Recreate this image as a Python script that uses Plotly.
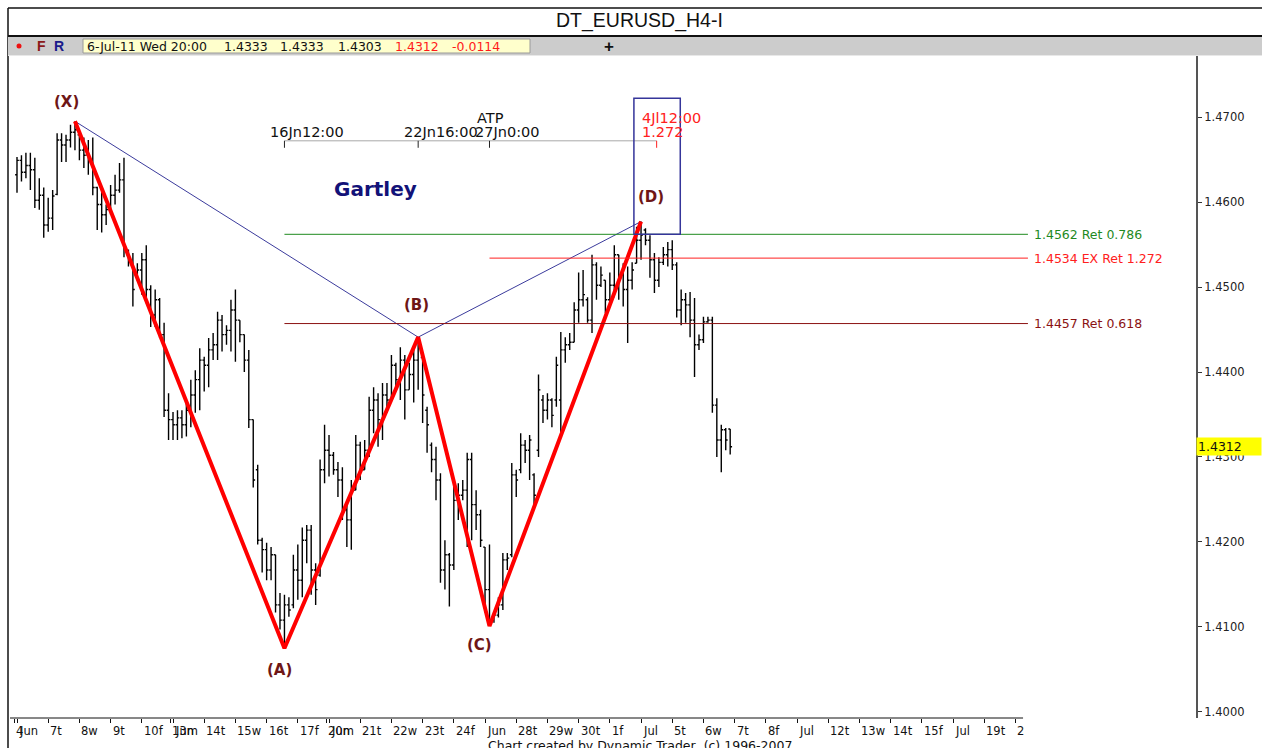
import plotly.graph_objects as go

# ---------------- data (EURUSD H4) ----------------
opens = [1.4632, 1.4649, 1.4635, 1.4643, 1.4638, 1.4602, 1.4608, 1.4573, 1.4581, 1.4609,
         1.4673, 1.4667, 1.4673, 1.4682, 1.4679, 1.4661, 1.4655, 1.4649, 1.4617, 1.4597,
         1.4585, 1.4591, 1.4608, 1.4614, 1.4626, 1.4538, 1.4529, 1.4514, 1.4520, 1.4532,
         1.4497, 1.4467, 1.4485, 1.4444, 1.4355, 1.4344, 1.4338, 1.4346, 1.4338, 1.4355,
         1.4373, 1.4391, 1.4414, 1.4408, 1.4426, 1.4432, 1.4461, 1.4444, 1.4449, 1.4473,
         1.4461, 1.4444, 1.4414, 1.4344, 1.4285, 1.4202, 1.4191, 1.4167, 1.4185, 1.4126,
         1.4108, 1.4126, 1.4126, 1.4167, 1.4155, 1.4202, 1.4214, 1.4167, 1.4161, 1.4285,
         1.4308, 1.4302, 1.4285, 1.4273, 1.4238, 1.4226, 1.4261, 1.4314, 1.4285, 1.4308,
         1.4355, 1.4367, 1.4344, 1.4373, 1.4367, 1.4408, 1.4391, 1.4414, 1.4379, 1.4397,
         1.4414, 1.4417, 1.4355, 1.4314, 1.4297, 1.4273, 1.4167, 1.4185, 1.4173, 1.4249,
         1.4255, 1.4261, 1.4297, 1.4244, 1.4232, 1.4194, 1.4144, 1.4108, 1.4114, 1.4126,
         1.4179, 1.4185, 1.4279, 1.4285, 1.4314, 1.4308, 1.4279, 1.4308, 1.4367, 1.4355,
         1.4367, 1.4367, 1.4367, 1.4426, 1.4432, 1.4435, 1.4473, 1.4485, 1.4485, 1.4461,
         1.4526, 1.4502, 1.4508, 1.4485, 1.4502, 1.4538, 1.4514, 1.4497, 1.4508, 1.4528,
         1.4555, 1.4567, 1.4555, 1.4532, 1.4508, 1.4529, 1.4538, 1.4544, 1.4526, 1.4473,
         1.4485, 1.4479, 1.4461, 1.4432, 1.4438, 1.4459, 1.4461, 1.4361, 1.4320, 1.4332,
         1.4333]
highs = [1.4653, 1.4655, 1.4658, 1.4658, 1.4652, 1.4628, 1.4617, 1.4605, 1.4614, 1.4681,
         1.4681, 1.4679, 1.4691, 1.4695, 1.4681, 1.4676, 1.4673, 1.4676, 1.4618, 1.4612,
         1.4597, 1.4620, 1.4632, 1.4646, 1.4652, 1.4544, 1.4540, 1.4528, 1.4540, 1.4549,
         1.4502, 1.4497, 1.4487, 1.4458, 1.4375, 1.4353, 1.4355, 1.4355, 1.4367, 1.4391,
         1.4402, 1.4428, 1.4418, 1.4440, 1.4446, 1.4471, 1.4467, 1.4455, 1.4485, 1.4497,
         1.4461, 1.4444, 1.4426, 1.4344, 1.4291, 1.4205, 1.4199, 1.4194, 1.4185, 1.4140,
         1.4138, 1.4135, 1.4185, 1.4197, 1.4217, 1.4220, 1.4220, 1.4175, 1.4297, 1.4338,
         1.4326, 1.4306, 1.4294, 1.4288, 1.4246, 1.4273, 1.4326, 1.4318, 1.4320, 1.4371,
         1.4382, 1.4375, 1.4387, 1.4387, 1.4420, 1.4411, 1.4429, 1.4420, 1.4411, 1.4426,
         1.4441, 1.4420, 1.4359, 1.4317, 1.4312, 1.4281, 1.4202, 1.4187, 1.4273, 1.4269,
         1.4273, 1.4305, 1.4305, 1.4261, 1.4238, 1.4194, 1.4197, 1.4117, 1.4135, 1.4187,
         1.4187, 1.4293, 1.4285, 1.4328, 1.4320, 1.4326, 1.4281, 1.4397, 1.4373, 1.4375,
         1.4369, 1.4418, 1.4447, 1.4441, 1.4446, 1.4482, 1.4517, 1.4520, 1.4488, 1.4538,
         1.4529, 1.4524, 1.4508, 1.4517, 1.4549, 1.4538, 1.4528, 1.4524, 1.4529, 1.4571,
         1.4577, 1.4569, 1.4561, 1.4540, 1.4535, 1.4547, 1.4553, 1.4555, 1.4529, 1.4497,
         1.4493, 1.4494, 1.4487, 1.4444, 1.4465, 1.4465, 1.4465, 1.4369, 1.4338, 1.4334,
         1.4333]
lows = [1.4611, 1.4624, 1.4628, 1.4614, 1.4593, 1.4591, 1.4558, 1.4565, 1.4567, 1.4608,
        1.4647, 1.4647, 1.4664, 1.4661, 1.4649, 1.4640, 1.4632, 1.4608, 1.4567, 1.4564,
        1.4573, 1.4585, 1.4597, 1.4611, 1.4535, 1.4524, 1.4477, 1.4508, 1.4491, 1.4481,
        1.4453, 1.4453, 1.4440, 1.4347, 1.4320, 1.4320, 1.4320, 1.4322, 1.4324, 1.4335,
        1.4352, 1.4355, 1.4377, 1.4382, 1.4414, 1.4414, 1.4424, 1.4432, 1.4424, 1.4412,
        1.4435, 1.4400, 1.4334, 1.4264, 1.4197, 1.4164, 1.4155, 1.4155, 1.4117, 1.4097,
        1.4075, 1.4112, 1.4122, 1.4132, 1.4135, 1.4175, 1.4138, 1.4126, 1.4159, 1.4269,
        1.4277, 1.4279, 1.4253, 1.4226, 1.4194, 1.4191, 1.4261, 1.4273, 1.4285, 1.4300,
        1.4328, 1.4312, 1.4320, 1.4352, 1.4367, 1.4379, 1.4367, 1.4344, 1.4379, 1.4364,
        1.4379, 1.4340, 1.4305, 1.4282, 1.4249, 1.4152, 1.4144, 1.4124, 1.4167, 1.4226,
        1.4249, 1.4194, 1.4202, 1.4214, 1.4194, 1.4117, 1.4101, 1.4105, 1.4111, 1.4120,
        1.4167, 1.4182, 1.4253, 1.4281, 1.4293, 1.4273, 1.4238, 1.4300, 1.4340, 1.4344,
        1.4335, 1.4359, 1.4326, 1.4411, 1.4426, 1.4435, 1.4458, 1.4477, 1.4458, 1.4446,
        1.4485, 1.4500, 1.4469, 1.4477, 1.4488, 1.4485, 1.4477, 1.4434, 1.4497, 1.4528,
        1.4532, 1.4549, 1.4511, 1.4493, 1.4500, 1.4526, 1.4524, 1.4520, 1.4464, 1.4455,
        1.4458, 1.4441, 1.4394, 1.4426, 1.4434, 1.4458, 1.4352, 1.4300, 1.4282, 1.4308,
        1.4303]
closes = [1.4649, 1.4635, 1.4643, 1.4638, 1.4602, 1.4608, 1.4573, 1.4581, 1.4607, 1.4673,
          1.4667, 1.4673, 1.4682, 1.4685, 1.4661, 1.4655, 1.4649, 1.4617, 1.4597, 1.4585,
          1.4591, 1.4608, 1.4614, 1.4626, 1.4544, 1.4529, 1.4497, 1.4520, 1.4532, 1.4497,
          1.4467, 1.4485, 1.4444, 1.4355, 1.4344, 1.4338, 1.4346, 1.4338, 1.4355, 1.4373,
          1.4391, 1.4414, 1.4408, 1.4426, 1.4432, 1.4461, 1.4444, 1.4449, 1.4473, 1.4461,
          1.4444, 1.4414, 1.4344, 1.4273, 1.4202, 1.4191, 1.4167, 1.4185, 1.4126, 1.4108,
          1.4126, 1.4120, 1.4167, 1.4155, 1.4202, 1.4214, 1.4167, 1.4144, 1.4285, 1.4308,
          1.4302, 1.4285, 1.4273, 1.4238, 1.4226, 1.4261, 1.4314, 1.4285, 1.4308, 1.4355,
          1.4367, 1.4344, 1.4373, 1.4367, 1.4408, 1.4391, 1.4414, 1.4379, 1.4397, 1.4414,
          1.4432, 1.4373, 1.4338, 1.4297, 1.4273, 1.4167, 1.4185, 1.4173, 1.4249, 1.4255,
          1.4261, 1.4297, 1.4244, 1.4232, 1.4202, 1.4144, 1.4108, 1.4114, 1.4126, 1.4179,
          1.4181, 1.4279, 1.4273, 1.4314, 1.4308, 1.4320, 1.4255, 1.4379, 1.4355, 1.4367,
          1.4349, 1.4408, 1.4426, 1.4432, 1.4435, 1.4473, 1.4485, 1.4491, 1.4461, 1.4526,
          1.4502, 1.4514, 1.4485, 1.4502, 1.4538, 1.4514, 1.4497, 1.4508, 1.4520, 1.4555,
          1.4561, 1.4555, 1.4532, 1.4508, 1.4529, 1.4538, 1.4544, 1.4526, 1.4473, 1.4485,
          1.4479, 1.4461, 1.4432, 1.4438, 1.4459, 1.4461, 1.4361, 1.4320, 1.4332, 1.4320,
          1.4312]

# Gartley pivots (bar index, price)
pivot_names = ["(X)", "(A)", "(B)", "(C)", "(D)"]
pivot_bars = [13, 60, 90, 106, 140]
pivot_prices = [1.4695, 1.4075, 1.4441, 1.4101, 1.4577]

# retracement / extension levels
level_prices = [1.4562, 1.4534, 1.4457]
level_texts = ["1.4562 Ret 0.786", "1.4534 EX Ret 1.272", "1.4457 Ret 0.618"]
level_colors = ["#1f8a1f", "#ff2020", "#8b1212"]
level_from_pivot = [1, 3, 1]

# ATP time projection
atp_texts = ["16Jn12:00", "22Jn16:00", "27Jn0:00"]
atp_from_pivot = [1, 2, 3]
proj_bar = 143.5
proj_texts = ["4Jl12:00", "1.272"]

# x axis (7 H4 bars per trading day, day 0 = Mon 6 Jun 2011)
day_labels = ["Jun", "7t", "8w", "9t", "10f", "Jun", "14t", "15w", "16t", "17f",
              "Jun", "21t", "22w", "23t", "24f", "Jun", "28t", "29w", "30t", "1f",
              "Jul", "5t", "6w", "7t", "8f", "Jul", "12t", "13w", "14t", "15f",
              "Jul", "19t", "2"]
extra_days = [0, 5, 10]
extra_labels = ["4", "13m", "20m"]

price_ticks = [1.40, 1.41, 1.42, 1.43, 1.44, 1.45, 1.46, 1.47]

header_values = ["6-Jul-11 Wed 20:00", "1.4333", "1.4333", "1.4303", "1.4312", "-0.0114"]

# ---------------- layout helpers ----------------
W, H = 1262, 748
ML, MR, MT, MB = 10, 66, 56, 30
PW, PH = W - ML - MR, H - MT - MB
BARS_PER_DAY = 7
X_RANGE = [-1.57, 264.5]
Y_RANGE = [1.39929, 1.47718]
LINE_END = 226.8


def px(x):
    return (x - ML) / PW


def py(y):
    return (H - MB - y) / PH


FONT = "DejaVu Sans"
idx = list(range(len(opens)))

fig = go.Figure()
fig.add_trace(go.Ohlc(x=idx, open=opens, high=highs, low=lows, close=closes,
                      increasing_line_color="#000000", decreasing_line_color="#000000",
                      line_width=1.4, tickwidth=0.42, hoverinfo="skip", showlegend=False))

# X-B-D thin navy lines
fig.add_trace(go.Scatter(x=[pivot_bars[0], pivot_bars[2], pivot_bars[4]],
                         y=[pivot_prices[0], pivot_prices[2], pivot_prices[4]],
                         mode="lines", line=dict(color="#3b3b9c", width=1),
                         hoverinfo="skip", showlegend=False))
# X-A-B-C-D thick red zigzag
fig.add_trace(go.Scatter(x=pivot_bars, y=pivot_prices, mode="lines",
                         line=dict(color="#ff0000", width=4),
                         hoverinfo="skip", showlegend=False))

shapes = []
annotations = []

# level lines + labels
for p, t, c, k in zip(level_prices, level_texts, level_colors, level_from_pivot):
    shapes.append(dict(type="line", xref="x", yref="y", x0=pivot_bars[k], x1=LINE_END,
                       y0=p, y1=p, line=dict(color=c, width=1)))
    annotations.append(dict(x=LINE_END + 1.0, y=p, xref="x", yref="y", text=t,
                            showarrow=False, xanchor="left", yanchor="middle",
                            font=dict(family=FONT, size=12.5, color=c)))

# pivot labels
offsets = [(-8, 19), (-5, -22), (-2, 32), (-10, -19), (10, 25)]
for n, b, p, (dx, dy) in zip(pivot_names, pivot_bars, pivot_prices, offsets):
    annotations.append(dict(x=b, y=p, xref="x", yref="y", text="<b>%s</b>" % n,
                            showarrow=False, xanchor="center", yanchor="middle",
                            xshift=dx, yshift=dy,
                            font=dict(family=FONT, size=15, color="#6e1616")))

# ATP bracket
BR = 1.4672
TK = 0.00082
ATP_SIZE = 14.5
atp_x = [pivot_bars[k] for k in atp_from_pivot]
shapes.append(dict(type="line", xref="x", yref="y", x0=atp_x[0], x1=proj_bar,
                   y0=BR, y1=BR, line=dict(color="#a8a8a8", width=1)))
for xb, t in zip(atp_x, atp_texts):
    shapes.append(dict(type="line", xref="x", yref="y", x0=xb, x1=xb, y0=BR, y1=BR - TK,
                       line=dict(color="#222222", width=1)))
    annotations.append(dict(x=xb, y=BR, xref="x", yref="y", text=t, showarrow=False,
                            xanchor="left", yanchor="bottom", xshift=-16, yshift=-1,
                            font=dict(family=FONT, size=ATP_SIZE, color="#111111")))
annotations.append(dict(x=atp_x[2], y=BR, xref="x", yref="y", text="ATP", showarrow=False,
                        xanchor="center", yanchor="bottom", xshift=1, yshift=13,
                        font=dict(family=FONT, size=ATP_SIZE, color="#111111")))
shapes.append(dict(type="line", xref="x", yref="y", x0=proj_bar, x1=proj_bar, y0=BR,
                   y1=BR - TK, line=dict(color="#ff2020", width=1)))
annotations.append(dict(x=proj_bar, y=BR, xref="x", yref="y", text=proj_texts[0],
                        showarrow=False, xanchor="left", yanchor="bottom", xshift=-17,
                        yshift=13, font=dict(family=FONT, size=ATP_SIZE, color="#ff2020")))
annotations.append(dict(x=proj_bar, y=BR, xref="x", yref="y", text=proj_texts[1],
                        showarrow=False, xanchor="left", yanchor="bottom", xshift=-17,
                        yshift=-1, font=dict(family=FONT, size=ATP_SIZE, color="#ff2020")))
# projection box
shapes.append(dict(type="rect", xref="x", yref="y", x0=proj_bar - 5.1, x1=proj_bar + 5.3,
                   y0=level_prices[0], y1=1.4722, line=dict(color="#35359a", width=1.5)))

# Gartley title
annotations.append(dict(x=px(375), y=py(189), xref="paper", yref="paper",
                        xanchor="center", yanchor="middle",
                        text="<b>Gartley</b>", showarrow=False,
                        font=dict(family=FONT, size=20, color="#121278")))

# bottom axis line and labels
shapes.append(dict(type="line", xref="x", yref="paper", x0=X_RANGE[0], x1=225.7,
                   y0=0, y1=0, line=dict(color="#111111", width=1)))
tickvals = [d * BARS_PER_DAY for d in range(len(day_labels))]
tickvals += [d * BARS_PER_DAY - 0.6 for d in extra_days]
for d, lab in enumerate(day_labels):
    annotations.append(dict(x=d * BARS_PER_DAY, y=0, xref="x", yref="paper", text=lab,
                            showarrow=False, xanchor="left", yanchor="top", xshift=0,
                            yshift=-4, font=dict(family=FONT, size=11.5, color="#111111")))
for d, lab in zip(extra_days, extra_labels):
    annotations.append(dict(x=d * BARS_PER_DAY - 0.6, y=0, xref="x", yref="paper", text=lab,
                            showarrow=False, xanchor="left", yanchor="top", xshift=0,
                            yshift=-4, font=dict(family=FONT, size=11.5, color="#111111")))
annotations.append(dict(x=px(640), y=py(745), xref="paper", yref="paper",
                        xanchor="center", yanchor="middle",
                        text="Chart created by Dynamic Trader  (c) 1996-2007",
                        showarrow=False, font=dict(family=FONT, size=12.5, color="#111111")))

# last price marker
annotations.append(dict(x=1, y=closes[-1], xref="paper", yref="y",
                        text="%.4f" % closes[-1], showarrow=False, xanchor="left",
                        yanchor="middle", bgcolor="#ffff00", width=62, align="left",
                        borderpad=1, font=dict(family=FONT, size=12.5, color="#111111")))

# frame and header
shapes.append(dict(type="line", xref="paper", yref="paper", x0=px(8), x1=px(8),
                   y0=py(748), y1=py(8), line=dict(color="#111111", width=1.5)))
shapes.append(dict(type="line", xref="paper", yref="paper", x0=px(8), x1=px(1262),
                   y0=py(8), y1=py(8), line=dict(color="#111111", width=1.5)))
shapes.append(dict(type="rect", xref="paper", yref="paper", x0=px(8), x1=px(1262),
                   y0=py(55), y1=py(37), fillcolor="#cccccc", line=dict(width=0)))
shapes.append(dict(type="line", xref="paper", yref="paper", x0=px(8), x1=px(1262),
                   y0=py(36), y1=py(36), line=dict(color="#111111", width=2)))
shapes.append(dict(type="line", xref="paper", yref="paper", x0=px(8), x1=px(1262),
                   y0=py(55.5), y1=py(55.5), line=dict(color="#e8e8e8", width=1)))
shapes.append(dict(type="rect", xref="paper", yref="paper", x0=px(83), x1=px(530),
                   y0=py(53), y1=py(39), fillcolor="#ffffcc",
                   line=dict(color="#9a9a9a", width=1)))
shapes.append(dict(type="circle", xref="paper", yref="paper", x0=px(16.5), x1=px(21.5),
                   y0=py(48.5), y1=py(43.5), fillcolor="#ee1111", line=dict(width=0)))

annotations.append(dict(x=px(639), y=py(20), xref="paper", yref="paper",
                        xanchor="center", yanchor="middle",
                        text="DT_EURUSD_H4-I", showarrow=False,
                        font=dict(family="Liberation Sans", size=19.5, color="#111111")))
annotations.append(dict(x=px(41), y=py(46), xref="paper", yref="paper", text="<b>F</b>",
                        showarrow=False, xanchor="center", yanchor="middle",
                        font=dict(family="Liberation Sans", size=14, color="#8b1a1a")))
annotations.append(dict(x=px(59), y=py(46), xref="paper", yref="paper", text="<b>R</b>",
                        showarrow=False, xanchor="center", yanchor="middle",
                        font=dict(family="Liberation Sans", size=14, color="#1a1a8b")))
annotations.append(dict(x=px(609), y=py(46), xref="paper", yref="paper", text="<b>+</b>",
                        showarrow=False, xanchor="center", yanchor="middle",
                        font=dict(family="Liberation Sans", size=17, color="#111111")))
hdr_x = [85, 222, 278, 336, 393, 450]
hdr_c = ["#111111", "#111111", "#111111", "#111111", "#ff1a1a", "#ff1a1a"]
for t, xx, c in zip(header_values, hdr_x, hdr_c):
    annotations.append(dict(x=px(xx), y=py(46), xref="paper", yref="paper", text=t,
                            showarrow=False, xanchor="left", yanchor="middle",
                            font=dict(family=FONT, size=12.5, color=c)))

fig.update_layout(
    width=W, height=H,
    margin=dict(l=ML, r=MR, t=MT, b=MB),
    paper_bgcolor="white", plot_bgcolor="white",
    showlegend=False,
    xaxis=dict(range=X_RANGE, showgrid=False, zeroline=False, showline=False,
               tickmode="array", tickvals=tickvals, showticklabels=False,
               ticks="outside", ticklen=4, tickcolor="#111111",
               rangeslider=dict(visible=False), fixedrange=True),
    yaxis=dict(range=Y_RANGE, side="right", showgrid=False, zeroline=False,
               showline=True, linecolor="#555555", linewidth=2, mirror=False,
               tickmode="array", tickvals=price_ticks, tickformat=".4f",
               ticks="outside", ticklen=4, tickcolor="#333333",
               tickfont=dict(family=FONT, size=11.5, color="#222222"), fixedrange=True),
    shapes=shapes,
    annotations=annotations,
)

fig.write_html("out.html", config={"displayModeBar": False},
               post_script="document.body.style.margin='0';document.body.style.overflow='hidden';")
